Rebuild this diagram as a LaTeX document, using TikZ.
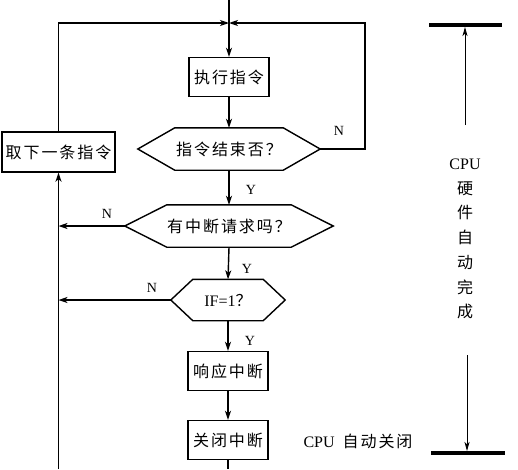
\documentclass[tikz,border=0pt]{standalone}
\usepackage{fontspec}
\setmainfont{Liberation Serif}
\newfontfamily\cjk[LetterSpace=12]{Noto Sans CJK SC}
\usetikzlibrary{arrows.meta,calc}
\begin{document}
\begin{tikzpicture}[x=1pt,y=-1pt,
  line/.style={line width=1.4pt},
  arr/.style={line,-{Stealth[length=9pt,width=6pt,inset=2.5pt]}},
  thinarr/.style={line width=0.9pt,-{Stealth[length=9pt,width=5pt,inset=2.5pt]}},
  bar/.style={line width=4pt},
  box/.style={draw,line width=1.4pt,minimum width=80pt,minimum height=39pt,inner sep=0pt,font=\fontsize{16}{18}\selectfont\cjk},
  body/.style={inner sep=0pt,font=\fontsize{16}{18}\selectfont},
  lab/.style={inner sep=0pt,font=\fontsize{14}{16}\selectfont},
  side/.style={inner sep=0pt,font=\fontsize{16}{18}\selectfont},
]
\useasboundingbox (0,0) rectangle (518,469);
% main column
\node[box] (exec) at (229,77) {执行指令};
\node[body,minimum width=108pt,minimum height=42pt] (d1) at (229,149) {{\cjk 指令结束否？}};
\node[body,minimum width=124pt,minimum height=42pt] (d2) at (229,226) {{\cjk 有中断请求吗？}};
\node[body,minimum width=70pt,minimum height=41pt] (d3) at (228,300) {IF=1{\cjk ？}};
\node[box] (resp) at (228,371) {响应中断};
\node[box] (close) at (228,440) {关闭中断};
\node[box,minimum width=113pt,minimum height=40pt] (take) at (58.5,152) {取下一条指令};
% hexagon tips
\coordinate (d1l) at ($(d1.west)+(-37,0)$);
\coordinate (d1r) at ($(d1.east)+(37,0)$);
\coordinate (d2l) at ($(d2.west)+(-42,0)$);
\coordinate (d2r) at ($(d2.east)+(42,0)$);
\coordinate (d3l) at ($(d3.west)+(-22,0)$);
\coordinate (d3r) at ($(d3.east)+(22,0)$);
\draw[line] (d1.north west) -- (d1.north east) -- (d1r) -- (d1.south east) -- (d1.south west) -- (d1l) -- cycle;
\draw[line] (d2.north west) -- (d2.north east) -- (d2r) -- (d2.south east) -- (d2.south west) -- (d2l) -- cycle;
\draw[line] (d3.north west) -- (d3.north east) -- (d3r) -- (d3.south east) -- (d3.south west) -- (d3l) -- cycle;
% helper coordinates
\coordinate (topin) at (229,0);
\coordinate (merge) at (229,23);
\coordinate (bot) at (229,469);
\coordinate (ltop) at (take.north |- merge);
\coordinate (lbot) at (take.south |- bot);
\coordinate (rtop) at (365,23);
\coordinate (rmid) at (365,149);
% connectors
\draw[arr] (topin) -- (exec.north);
\draw[arr] (exec.south) -- (d1.north);
\draw[arr] (d1.south) -- (d2.north);
\draw[arr] (d2.south) -- (d3.north);
\draw[arr] (d3.south -| resp.north) -- (resp.north);
\draw[arr] (resp.south) -- (close.north);
\draw[line] (close.south) -- (close.south |- bot);
\draw[arr] (d1r) -- (rmid) -- (rtop) -- (merge);
\draw[arr] (take.north) -- (ltop) -- (merge);
\draw[arr] (d2l) -- (d2l -| take.north);
\draw[arr] (d3l) -- (d3l -| take.north);
\draw[arr] (lbot) -- (take.south);
% labels
\node[lab] (y1) at (251,190) {Y};
\node[lab] (y2) at (247,269) {Y};
\node[lab] (y3) at (250,341) {Y};
\node[lab] (n1) at (339,131) {N};
\node[lab] (n2) at (107,214) {N};
\node[lab] (n3) at (152,288) {N};
% right side
\coordinate (b1l) at (429,25);
\coordinate (b1r) at (502,25);
\coordinate (b1m) at (465,27);
\coordinate (a1s) at (465,125);
\draw[bar] (b1l) -- (b1r);
\draw[thinarr] (a1s) -- (b1m);
\node[side,align=center,font=\fontsize{16}{24.7}\selectfont] (hw) at (465,239) {CPU\\{\cjk 硬}\\{\cjk 件}\\{\cjk 自}\\{\cjk 动}\\{\cjk 完}\\{\cjk 成}};
\coordinate (b2l) at (431,453);
\coordinate (b2r) at (505,453);
\coordinate (b2m) at (467,451);
\coordinate (a2s) at (467,355);
\draw[bar] (b2l) -- (b2r);
\draw[thinarr] (a2s) -- (b2m);
\node[side] (auto) at (358,441) {CPU\hspace{4pt} {\cjk 自动关闭}};
\end{tikzpicture}
\end{document}
